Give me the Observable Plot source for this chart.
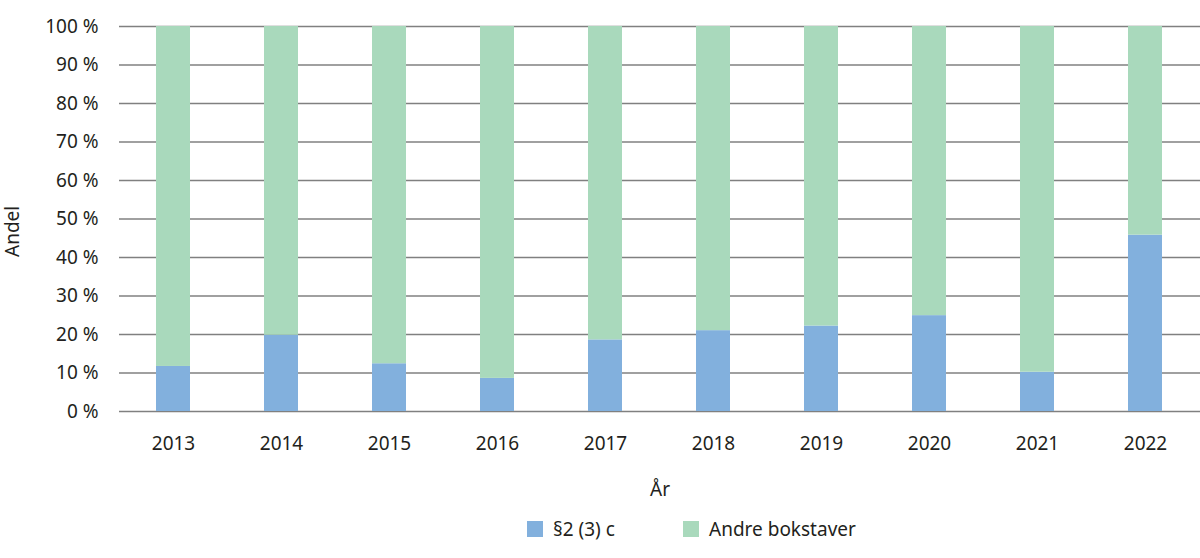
<!DOCTYPE html>
<html>
<head>
<meta charset="utf-8">
<script src="https://cdn.jsdelivr.net/npm/d3@7"></script>
<script src="https://cdn.jsdelivr.net/npm/@observablehq/plot@0.6"></script>
<style>
  html, body { margin: 0; padding: 0; background: #fff; }
  body { width: 1200px; height: 558px; overflow: hidden; font-family: "Noto Sans", sans-serif; color: #231f20; }
  #chart svg { display: block; }
  .legend { position: relative; height: 58px; }
  .legend .item { position: absolute; top: 16px; display: flex; align-items: center; font-size: 19px; }
  .legend .sw { width: 16px; height: 16px; margin-right: 10px; }
</style>
</head>
<body>
<div id="chart"></div>
<div class="legend" id="legend"></div>
<script>
const years = ["2013","2014","2015","2016","2017","2018","2019","2020","2021","2022"];
const seriesNames = ["§2 (3) c", "Andre bokstaver"];
const share2_3c = [11.7, 19.8, 12.4, 8.6, 18.6, 21.0, 22.2, 24.9, 10.2, 45.8];
const colors = ["#82b0dd", "#a9d9bc"];
const yTicks = [0, 10, 20, 30, 40, 50, 60, 70, 80, 90, 100];

const data = [];
years.forEach((y, i) => {
  data.push({year: y, series: seriesNames[0], value: share2_3c[i]});
  data.push({year: y, series: seriesNames[1], value: 100 - share2_3c[i]});
});

const chart = Plot.plot({
  width: 1200,
  height: 500,
  marginLeft: 119,
  marginRight: 0,
  marginTop: 26,
  marginBottom: 89,
  style: {fontFamily: "Noto Sans, sans-serif", fontSize: "19px", color: "#231f20", background: "#fff"},
  x: {domain: years, paddingInner: 0.685, paddingOuter: 0.3425, align: 0.5, label: null},
  y: {domain: [0, 100], label: null},
  color: {domain: seriesNames, range: colors},
  marks: [
    Plot.ruleY(yTicks, {stroke: "#808080", strokeWidth: 1.4}),
    Plot.barY(data, {x: "year", y: "value", fill: "series", order: seriesNames}),
    Plot.axisY(yTicks, {tickSize: 0, tickPadding: 21, tickFormat: d => d + " %", fontSize: 19, label: null}),
    Plot.axisX({tickSize: 0, tickPadding: 25, fontSize: 19, label: null}),
    Plot.text(["År"], {frameAnchor: "bottom", dy: 84, fontSize: 19, fill: "#231f20"}),
    Plot.text(["Andel"], {frameAnchor: "left", dx: -107, dy: 38, rotate: -90, fontSize: 19, fill: "#231f20"})
  ]
});
document.getElementById("chart").appendChild(chart);

const legend = document.getElementById("legend");
const lefts = [527, 683];
seriesNames.forEach((name, i) => {
  const item = document.createElement("div");
  item.className = "item";
  item.style.left = lefts[i] + "px";
  const sw = document.createElement("div");
  sw.className = "sw";
  sw.style.background = colors[i];
  const t = document.createElement("span");
  t.textContent = name;
  item.appendChild(sw);
  item.appendChild(t);
  legend.appendChild(item);
});
</script>
</body>
</html>
